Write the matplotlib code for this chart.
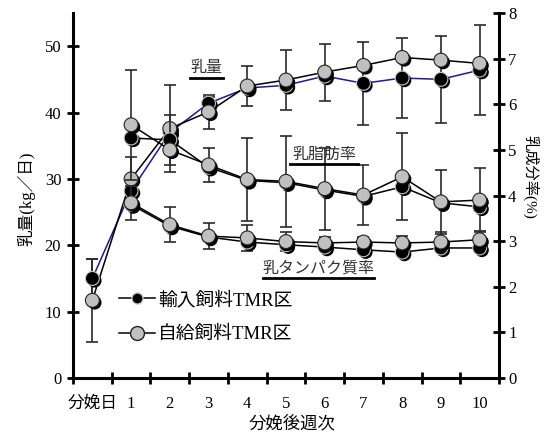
import numpy as np
import matplotlib
matplotlib.use("Agg")
import matplotlib.pyplot as plt
import matplotlib.patheffects as pe
from matplotlib.lines import Line2D

plt.rcParams['font.family'] = ['Liberation Serif', 'Noto Sans CJK JP']

# categories
week_labels = ['分娩日', '1', '2', '3', '4', '5', '6', '7', '8', '9', '10']

# milk yield (kg/day), 分娩日 .. week 10
milk_import = [15.0, 28.2, 37.0, 41.4, 43.7, 44.1, 45.5, 44.4, 45.2, 45.0, 46.4]
milk_import_err = [3.0, 0, 0, 1.0, 0, 0, 0, 6.3, 6.0, 6.5, 6.8]
milk_self = [11.7, 30.0, 37.6, 40.1, 44.0, 44.9, 46.1, 47.1, 48.3, 47.9, 47.4]
milk_self_err = [6.3, 3.3, 6.6, 2.6, 3.0, 4.5, 4.3, 0, 0, 0, 0]

# milk fat (%), week 1 .. 10
fat_import = [5.26, 5.22, 4.62, 4.33, 4.28, 4.12, 3.98, 4.19, 3.84, 3.75]
fat_import_err = [0, 0.55, 0, 0, 0, 0, 0, 0, 0, 0]
fat_self = [5.55, 5.00, 4.67, 4.35, 4.31, 4.15, 4.01, 4.41, 3.86, 3.90]
fat_self_err = [1.2, 0, 0.37, 0.9, 1.0, 0.9, 0.66, 0.95, 0.7, 0.7]

# milk protein (%), week 1 .. 10
prot_import = [3.80, 3.33, 3.09, 2.98, 2.92, 2.87, 2.81, 2.76, 2.85, 2.85]
prot_self = [3.84, 3.36, 3.11, 3.07, 2.99, 2.96, 2.98, 2.96, 2.98, 3.03]
prot_self_err = [0.37, 0.39, 0.29, 0.29, 0.2, 0.12, 0.12, 0.15, 0.22, 0.19]

x_all = np.arange(len(week_labels)) + 0.5
x_wk = x_all[1:]

shadow = [pe.SimplePatchShadow(offset=(1.6, -1.6), shadow_rgbFace='black', alpha=1.0), pe.Normal()]
black_mk = dict(marker='o', ms=10, mfc='black', mec='#c8c8c8', mew=0.8, ls='none', path_effects=shadow)
gray_mk = dict(marker='o', ms=10, mfc='#c0c0c0', mec='#222222', mew=0.8, ls='none', path_effects=shadow)


def errs(ax, x, y, e):
    x, y, e = np.asarray(x), np.asarray(y), np.asarray(e)
    m = e > 0
    ax.errorbar(x[m], y[m], yerr=e[m], fmt='none', ecolor='#2a2a2a', elinewidth=1.2,
                capsize=4, capthick=1.2, zorder=1)


def series(ax, x, y_imp, y_self, imp_color='black'):
    ax.plot(x, y_imp, color=imp_color, lw=1.1, zorder=2)
    ax.plot(x, y_self, color='black', lw=1.1, zorder=2)
    ax.plot(x, y_imp, zorder=3, **black_mk)
    ax.plot(x, y_self, zorder=4, **gray_mk)


fig = plt.figure(figsize=(5.49, 4.37), dpi=100)
ax = fig.add_axes([73 / 549, 59 / 437, 426 / 549, 365 / 437])
ax2 = ax.twinx()

errs(ax, x_all, milk_import, milk_import_err)
errs(ax, x_all, milk_self, milk_self_err)
series(ax, x_all, milk_import, milk_self, imp_color='#1c1c8c')

errs(ax2, x_wk, fat_import, fat_import_err)
errs(ax2, x_wk, fat_self, fat_self_err)
errs(ax2, x_wk, prot_self, prot_self_err)
series(ax2, x_wk, fat_import, fat_self)
series(ax2, x_wk, prot_import, prot_self)

ax.set_xlim(0, 11)
ax.set_ylim(0, 55)
ax2.set_ylim(0, 8)
ax.set_yticks(range(0, 51, 10))
ax2.set_yticks(range(0, 9))
ax.set_xticks(x_all)
ax.set_xticklabels(week_labels)
ax.set_xticks(np.arange(0, 12), minor=True)

for a in (ax, ax2):
    for s in a.spines.values():
        s.set_visible(False)
ax.spines['left'].set_visible(True)
ax.spines['bottom'].set_visible(True)
ax2.spines['right'].set_visible(True)
for s in (ax.spines['left'], ax.spines['bottom'], ax2.spines['right']):
    s.set_linewidth(2.2)

ax.tick_params(axis='y', direction='inout', length=9, width=2, labelsize=12, pad=4)
ax2.tick_params(axis='y', direction='inout', length=9, width=2, labelsize=12, pad=2)
ax.tick_params(axis='x', which='major', length=0, labelsize=12, pad=13)
ax.tick_params(axis='x', which='minor', direction='inout', length=9, width=2)

ax.set_xlabel('分娩後週次', fontsize=12.5)
ax.xaxis.set_label_coords(0.514, -0.103)
ax.set_ylabel('乳量(kg／日)', fontsize=12)
ax.yaxis.set_label_coords(-0.088, 0.49)
ax2.set_ylabel('乳成分率(%)', fontsize=11, rotation=270, va='bottom')
ax2.yaxis.set_label_coords(1.055, 0.55)

# series names
notes = [('乳量', 0.312, 0.848, 0.275, 0.352, 0.822),
         ('乳脂肪率', 0.589, 0.611, 0.509, 0.669, 0.586),
         ('乳タンパク質率', 0.575, 0.300, 0.446, 0.707, 0.274)]
for txt, tx, ty, x0, x1, uy in notes:
    ax2.text(tx, ty, txt, transform=ax2.transAxes, ha='center', va='center',
             fontsize=11.5, color='#333333')
    ax2.plot([x0, x1], [uy, uy], transform=ax2.transAxes, color='black', lw=2)

handles = [Line2D([], [], color='black', lw=1.1, marker='o', ms=8, mfc='black', mec='#c8c8c8'),
           Line2D([], [], color='black', lw=1.1, marker='o', ms=10, mfc='#c0c0c0', mec='#222222')]
ax2.legend(handles, ['輸入飼料TMR区', '自給飼料TMR区'], loc='upper left',
           bbox_to_anchor=(0.108, 0.238), frameon=False, fontsize=13.5,
           handlelength=1.9, handletextpad=0.2, borderpad=0, borderaxespad=0,
           labelspacing=0.9)

fig.savefig('out.png', dpi=100)
